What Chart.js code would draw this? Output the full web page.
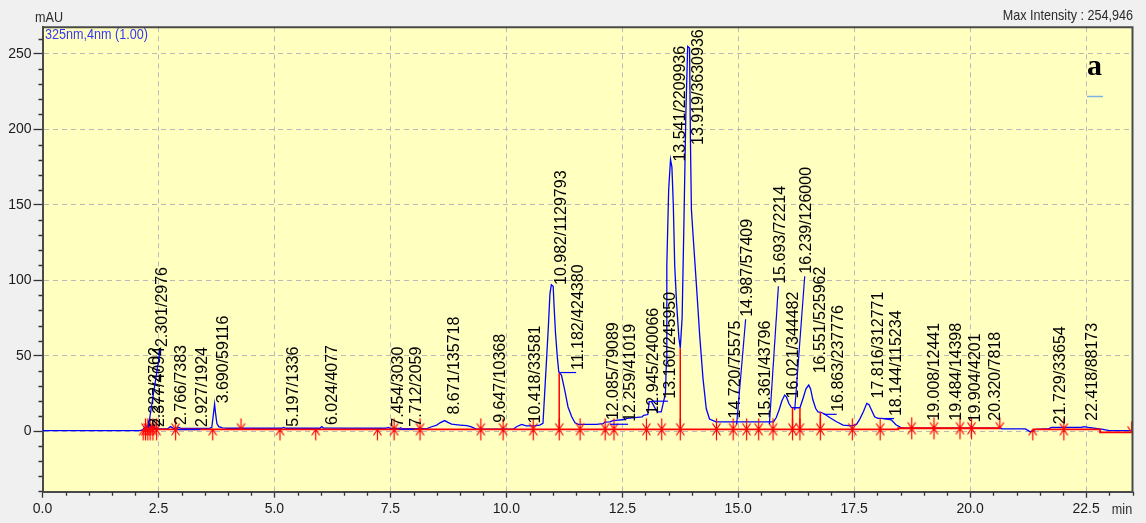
<!DOCTYPE html>
<html>
<head>
<meta charset="utf-8">
<script src="https://cdn.jsdelivr.net/npm/chart.js@4.4.1/dist/chart.umd.min.js"></script>
<style>
  html, body { margin: 0; padding: 0; background: #f0f0f0; overflow: hidden; }
  canvas { display: block; }
</style>
</head>
<body>
<canvas id="chromatogram" width="1146" height="523"></canvas>
<script>
// Detector trace, 325 nm channel: retention time (min) and response (mAU)
const times = [
  0, 2.10, 2.16, 2.20, 2.23, 2.26, 2.30, 2.33, 2.37, 2.42,
  2.50, 2.70, 2.76, 2.82, 2.90, 2.93, 2.98, 3.60, 3.65, 3.68,
  3.71, 3.73, 3.76, 3.80, 3.88, 4.00, 5.15, 5.20, 5.25, 5.98,
  6.02, 6.06, 7.40, 7.45, 7.50, 7.70, 7.72, 7.76, 8.30, 8.39,
  8.50, 8.57, 8.67, 8.74, 8.82, 9.00, 9.15, 9.25, 9.35, 10.15,
  10.22, 10.33, 10.43, 10.60, 10.72, 10.79, 10.83, 10.87, 10.91, 10.94,
  10.97, 11.01, 11.03, 11.06, 11.10, 11.13, 11.19, 11.26, 11.33, 11.41,
  11.48, 11.55, 11.66, 11.94, 12.09, 12.12, 12.23, 12.30, 12.55, 12.60,
  12.93, 12.96, 13.05, 13.08, 13.13, 13.25, 13.34, 13.39, 13.43, 13.45,
  13.46, 13.50, 13.54, 13.57, 13.60, 13.63, 13.67, 13.72, 13.75, 13.79,
  13.83, 13.87, 13.91, 13.95, 13.97, 13.99, 14.03, 14.10, 14.17, 14.24,
  14.31, 14.38, 14.52, 15.76, 15.82, 15.88, 15.94, 16.00, 16.04, 16.09,
  16.14, 16.17, 16.33, 16.40, 16.46, 16.52, 16.56, 16.61, 16.67, 16.72,
  16.78, 16.85, 16.97, 17.12, 17.26, 17.44, 17.55, 17.62, 17.70, 17.77,
  17.82, 17.88, 17.94, 18.01, 18.09, 18.20, 18.30, 18.40, 18.50, 18.60,
  20.64, 20.70, 21.19, 21.30, 21.41, 21.70, 21.75, 22.40, 22.45, 22.55,
  22.86, 23.00, 23.50
];
const signal = [
  0.3, 0.3, 0.8, 2.5, 3.5, 1.5, 4.0, 2.0, 3.5, 1.8,
  1.5, 1.6, 3.0, 1.8, 1.8, 2.6, 1.8, 1.8, 2.5, 10,
  18, 12, 5, 3, 2.2, 1.9, 1.9, 2.5, 1.9, 1.9,
  3.0, 2.0, 1.9, 2.5, 1.8, 1.8, 2.3, 1.6, 1.8, 2.9,
  4.0, 5.5, 7.0, 5.8, 4.6, 4.0, 3.6, 2.8, 1.3, 1.3,
  2.9, 4.4, 3.5, 3.5, 4.0, 5.1, 27, 49, 71.5, 91,
  97, 96, 82.5, 65, 49, 39.4, 37, 27, 16, 9.5,
  5.5, 4.5, 4.5, 4.5, 5.0, 6.0, 6.2, 6.9, 7.7, 8.4,
  9.5, 10.5, 11, 19.5, 19.5, 12.8, 12.8, 19.5, 25, 45,
  110, 160, 180, 175, 150, 110, 85, 62, 55, 75,
  140, 210, 255, 254, 191, 147, 128, 96, 63, 35,
  15, 8, 6.2, 6.2, 9, 14, 20, 23.9, 22.5, 18.5,
  16, 15.5, 15.5, 22, 28, 30.5, 28, 20.6, 15, 12.8,
  12.5, 11.5, 9.0, 6.2, 4.0, 3.5, 4.5, 8, 13, 18.4,
  17.5, 13.5, 9.5, 8.5, 8.4, 8.0, 7.5, 4.2, 2.5, 1.9,
  1.9, 1.5, 1.5, -0.5, 1.2, 1.7, 2.5, 2.5, 3.0, 2.5,
  1.2, 0.4, 0.4
];

// Integration baseline (a null level breaks the line)
const baselineTimes  = [2.17, 18.45, 18.45, 20.64, 20.64, 21.35, 22.80, 22.80, 23.48];
const baselineLevels = [1.2, 1.2, 1.9, 1.9, null, 1.2, 1.2, -0.8, -0.8];

// Peak start / end marks (min)
const peakStarts = [2.17, 2.22, 2.27, 2.32, 2.38, 2.46, 2.87, 3.67, 5.12, 5.89, 7.22, 7.58, 8.14,
  9.45, 9.93, 10.58, 11.14, 11.59, 12.13, 12.32, 13.02, 13.35, 13.75, 14.53, 14.89, 15.18, 15.44,
  15.75, 16.17, 16.33, 16.77, 17.46, 18.06, 18.74, 19.22, 19.78, 20.03, 21.35, 22.02];
const peakEnds = [2.22, 2.27, 2.32, 2.38, 2.46, 2.87, 4.28, 7.58, 8.14, 9.45, 9.93, 10.58, 11.14,
  11.59, 12.13, 12.32, 13.02, 13.35, 13.75, 14.53, 14.89, 15.18, 15.44, 15.75, 16.17, 16.33, 16.77,
  17.46, 18.06, 18.74, 19.22, 19.78, 20.03, 20.64, 22.02, 23.48];

// Perpendicular drops between unresolved peaks
const dropTimes = [11.14, 13.75, 16.17, 16.33, 16.77];
const dropTops  = [38.5, 55, 15.5, 15.5, 12.6];

// Peak table: retention time / area, and the level each label starts from (mAU)
const peakRT = ['2.222', '2.377', '2.301', '2.766', '2.927', '3.690', '5.197', '6.024', '7.454', '7.712',
  '8.671', '9.647', '10.418', '10.982', '11.182', '12.085', '12.259', '12.945', '13.160', '13.541',
  '13.919', '14.720', '14.987', '15.361', '15.693', '16.021', '16.239', '16.551', '16.863', '17.816',
  '18.144', '19.008', '19.484', '19.904', '20.320', '21.729', '22.418'];
const peakArea = [2702, 4094, 2976, 7383, 1924, 59116, 1336, 4077, 3030, 2059,
  135718, 10368, 33581, 1129793, 424380, 79089, 41019, 240066, 245950, 2209936,
  3630936, 75575, 57409, 43796, 72214, 344482, 126000, 525962, 237776, 312771,
  115234, 12441, 14398, 4201, 7818, 33654, 88173];
const peakLevel = [2.7, 2.7, 4, 4, 2.7, 18.4, 2.9, 4, 2.9, 2.9,
  11, 5.5, 5.1, 96.9, 40.5, 7.3, 6.2, 11, 21.5, 178.7,
  255, 8.4, 6.2, 8.4, 6.2, 21.7, 15.5, 38.3, 12.8, 21.7,
  10, 6.9, 6.9, 5.8, 6.9, 4.6, 6.9];

// Axis ticks
const xTicks = [0, 2.5, 5, 7.5, 10, 12.5, 15, 17.5, 20, 22.5];
const yTicks = [0, 50, 100, 150, 200, 250];

// Label placement: [shift right px, lift px] for crowded labels
const labelNudge = {
  '2.377': [-3, 0], '2.301': [3, 78], '2.766': [1, 0], '2.927': [14, 0], '7.712': [6, 0],
  '11.182': [7, 0], '12.259': [9, 0], '13.160': [7, 0], '14.987': [0, 105], '15.693': [0, 138],
  '16.021': [-2, 0], '16.239': [1, 134], '16.863': [4, 0], '18.144': [2, 0]
};

const SANS = "'Liberation Sans', Arial, sans-serif";
const BLUE = '#0000ff';
const RED = '#ff0000';
const FRAME = '#4a4a4a';

function baselineAt(t) {
  for (let i = 0; i < baselineTimes.length - 1; i++) {
    const a = baselineLevels[i], b = baselineLevels[i + 1];
    if (a === null || b === null) continue;
    if (t >= baselineTimes[i] && t <= baselineTimes[i + 1]) return a;
  }
  return 1.2;
}

function arrowMark(dir) {
  const c = document.createElement('canvas');
  c.width = 11; c.height = 25;
  const g = c.getContext('2d');
  g.strokeStyle = RED; g.lineWidth = 1.2;
  const cx = 5.5, cy = 12.5;
  g.beginPath();
  if (dir === 'up') {
    g.moveTo(cx, cy); g.lineTo(cx, cy + 11);
    g.moveTo(cx - 4, cy + 6); g.lineTo(cx, cy); g.lineTo(cx + 4, cy + 6);
  } else {
    g.moveTo(cx, cy); g.lineTo(cx, cy - 11);
    g.moveTo(cx - 4, cy - 6); g.lineTo(cx, cy); g.lineTo(cx + 4, cy - 6);
  }
  g.stroke();
  return c;
}
const upMark = arrowMark('up');
const downMark = arrowMark('down');

const traceData = times.map((t, i) => ({ x: t, y: signal[i] }));
const baselineData = baselineTimes.map((t, i) => ({ x: t, y: baselineLevels[i] }));
const dropData = [];
dropTimes.forEach((t, i) => {
  dropData.push({ x: t, y: baselineAt(t) }, { x: t, y: dropTops[i] }, { x: t, y: null });
});
const startData = peakStarts.map(t => ({ x: t, y: baselineAt(t) }));
const endData = peakEnds.map(t => ({ x: t, y: baselineAt(t) }));

// condensed caption text (horizontal squeeze of a regular face)
function narrowText(ctx, text, x, y, align) {
  ctx.save();
  ctx.translate(x, y);
  ctx.scale(0.84, 1);
  ctx.textAlign = align;
  ctx.fillText(text, 0, 0);
  ctx.restore();
}

const backdrop = {
  id: 'backdrop',
  beforeDraw(chart) {
    const { ctx, chartArea: a } = chart;
    ctx.save();
    ctx.fillStyle = '#f0f0f0';
    ctx.fillRect(0, 0, chart.width, chart.height);
    ctx.fillStyle = '#ffffc0';
    ctx.fillRect(a.left, a.top, a.right - a.left, a.bottom - a.top);
    ctx.restore();
  }
};

const peakLabels = {
  id: 'peakLabels',
  afterDatasetsDraw(chart) {
    const { ctx, chartArea: a, scales: { x, y } } = chart;
    const capH = 11.6;
    ctx.save();
    ctx.font = '16px ' + SANS;
    ctx.textAlign = 'left';
    ctx.textBaseline = 'alphabetic';
    peakRT.forEach((rt, i) => {
      const text = rt + '/' + peakArea[i];
      const [dx, lift] = labelNudge[rt] || [0, 0];
      const px = x.getPixelForValue(parseFloat(rt));
      const py = y.getPixelForValue(peakLevel[i]);
      const left = px + 3 + dx;
      let bottom = py - lift;
      const w = ctx.measureText(text).width;
      if (bottom - w < a.top + 2) bottom = a.top + 2 + w;
      if (dx >= 2 || lift > 0) {
        ctx.strokeStyle = BLUE;
        ctx.lineWidth = 1.2;
        ctx.beginPath();
        ctx.moveTo(px - 1, py + 2.5);
        ctx.lineTo(left + 5, bottom + 2.5);
        ctx.stroke();
      }
      ctx.fillStyle = '#000';
      ctx.save();
      ctx.translate(left + capH, bottom);
      ctx.rotate(-Math.PI / 2);
      ctx.fillText(text, 0, 0);
      ctx.restore();
    });
    ctx.restore();
  }
};

const frameAndNotes = {
  id: 'frameAndNotes',
  afterDraw(chart) {
    const { ctx, chartArea: a, scales: { x, y } } = chart;
    ctx.save();
    // top and right edges of the plot frame
    ctx.strokeStyle = FRAME;
    ctx.lineWidth = 2;
    ctx.beginPath();
    ctx.moveTo(a.left, a.top);
    ctx.lineTo(a.right, a.top);
    ctx.lineTo(a.right, a.bottom);
    ctx.stroke();
    // minor ticks
    ctx.lineWidth = 1.3;
    ctx.strokeStyle = '#333';
    ctx.beginPath();
    for (let k = 1; k <= 47; k++) {
      const v = k * 0.5;
      if (k % 5 === 0 || v > x.max) continue;
      const px = Math.round(x.getPixelForValue(v)) + 0.5;
      ctx.moveTo(px, a.bottom);
      ctx.lineTo(px, a.bottom + 4);
    }
    for (let v = -40; v <= 260; v += 10) {
      if (v % 50 === 0) continue;
      const py = Math.round(y.getPixelForValue(v)) + 0.5;
      ctx.moveTo(a.left - 4, py);
      ctx.lineTo(a.left, py);
    }
    ctx.stroke();
    // captions
    ctx.fillStyle = '#2a2a2a';
    ctx.font = '15px ' + SANS;
    ctx.textBaseline = 'middle';
    narrowText(ctx, 'mAU', 35, 18, 'left');
    narrowText(ctx, 'Max Intensity : 254,946', 1133, 16, 'right');
    narrowText(ctx, 'min', 1122, 510, 'center');
    ctx.fillStyle = '#3535f5';
    narrowText(ctx, '325nm,4nm (1.00)', 45, 35, 'left');
    ctx.fillStyle = '#000';
    ctx.font = "bold 30px 'Liberation Serif', 'DejaVu Serif', serif";
    ctx.textBaseline = 'alphabetic';
    ctx.textAlign = 'left';
    ctx.fillText('a', 1087, 75);
    ctx.strokeStyle = '#7fb2e0';
    ctx.lineWidth = 1.5;
    ctx.beginPath();
    ctx.moveTo(1087, 96.5);
    ctx.lineTo(1103, 96.5);
    ctx.stroke();
    ctx.restore();
  }
};

new Chart(document.getElementById('chromatogram'), {
  type: 'line',
  data: {
    datasets: [
      { data: startData, showLine: false, pointStyle: upMark, pointRadius: 5, order: 1 },
      { data: endData, showLine: false, pointStyle: downMark, pointRadius: 5, order: 1 },
      { data: dropData, borderColor: RED, borderWidth: 1.5, pointRadius: 0, spanGaps: false, order: 2 },
      { data: baselineData, borderColor: RED, borderWidth: 1.8, pointRadius: 0, spanGaps: false, order: 2 },
      { data: traceData, borderColor: BLUE, borderWidth: 1.3, pointRadius: 0, tension: 0, order: 3 }
    ]
  },
  options: {
    responsive: false,
    animation: false,
    events: [],
    layout: { padding: { top: 27.3, right: 13.5, left: 0, bottom: 0 } },
    plugins: { legend: { display: false }, tooltip: { enabled: false } },
    scales: {
      x: {
        type: 'linear', min: 0, max: 23.5,
        afterBuildTicks: s => { s.ticks = xTicks.map(v => ({ value: v })); },
        afterFit: s => { s.height = 31.3; },
        ticks: {
          color: '#1a1a1a', padding: 3, maxRotation: 0, autoSkip: false,
          font: { family: SANS, size: 14 },
          callback: v => v.toFixed(1)
        },
        grid: {
          color: '#b9b9b9', lineWidth: 1, tickLength: 6, tickColor: '#333', tickWidth: 1.3
        },
        border: { color: FRAME, width: 2, dash: [5, 4] }
      },
      y: {
        type: 'linear', min: -40.15, max: 267.69,
        afterBuildTicks: s => { s.ticks = yTicks.map(v => ({ value: v })); },
        afterFit: s => { s.width = 42.5; },
        ticks: {
          color: '#1a1a1a', padding: 2,
          font: { family: SANS, size: 14 },
          callback: v => String(v)
        },
        grid: {
          color: '#b9b9b9', lineWidth: 1, tickLength: 9, tickColor: '#333', tickWidth: 1.3
        },
        border: { color: FRAME, width: 2, dash: [5, 4] }
      }
    }
  },
  plugins: [backdrop, peakLabels, frameAndNotes]
});
</script>
</body>
</html>
